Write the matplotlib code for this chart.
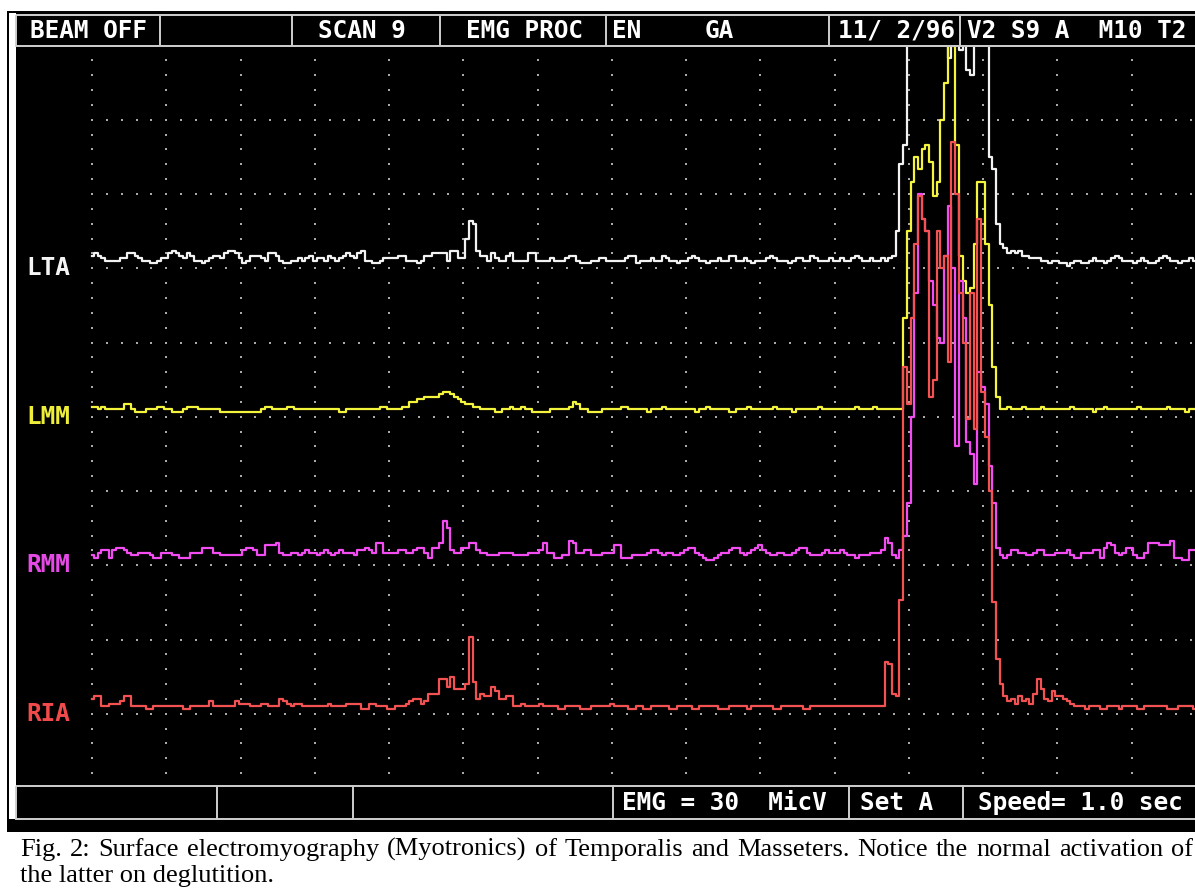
import numpy as np
import matplotlib.pyplot as plt
from matplotlib.patches import Rectangle

# EMG envelopes, one value every 0.05 s, in microvolts
lta_uv = [
    5, 6, 5, 4, 3, 3, 3, 3, 4, 4, 6, 6, 5, 4, 3, 3, 2, 2, 3, 4,
    4, 6, 7, 6, 5, 4, 6, 5, 3, 3, 2, 3, 4, 5, 5, 4, 6, 7, 7, 6,
    4, 2, 3, 5, 5, 5, 4, 3, 6, 6, 5, 3, 2, 2, 3, 3, 4, 3, 4, 5,
    3, 4, 4, 3, 5, 4, 3, 4, 5, 6, 5, 4, 6, 7, 3, 3, 2, 2, 3, 4,
    4, 4, 4, 5, 5, 3, 3, 3, 2, 3, 5, 5, 6, 6, 6, 6, 3, 7, 7, 4,
    4, 12, 19, 18, 7, 5, 5, 3, 6, 4, 3, 3, 5, 6, 3, 3, 3, 3, 6, 6,
    3, 3, 3, 3, 4, 3, 3, 3, 4, 5, 5, 3, 2, 2, 2, 3, 3, 4, 4, 3,
    3, 3, 3, 3, 4, 5, 5, 2, 3, 3, 3, 4, 3, 3, 5, 4, 3, 3, 2, 3,
    3, 4, 5, 4, 3, 3, 2, 3, 3, 4, 3, 3, 5, 5, 3, 3, 4, 3, 2, 3,
    3, 3, 4, 5, 4, 3, 3, 3, 2, 3, 4, 4, 3, 3, 5, 4, 3, 3, 3, 4,
    3, 3, 4, 3, 3, 4, 5, 4, 3, 3, 4, 3, 3, 4, 3, 4, 5, 15, 42, 50,
    120, 120, 120, 120, 120, 120, 120, 120, 120, 120, 120, 85, 120, 120, 88, 120, 80, 78, 120, 120,
    120, 120, 45, 40, 18, 10, 8, 6, 7, 6, 7, 5, 5, 4, 4, 4, 3, 3, 2, 3,
    3, 2, 2, 1, 2, 3, 3, 2, 2, 3, 4, 3, 3, 2, 3, 4, 5, 4, 3, 3,
    3, 2, 3, 4, 3, 2, 2, 3, 4, 5, 4, 3, 3, 2, 3, 3, 4, 3, 3, 3,
]
lmm_uv = [
    4, 4, 3, 4, 3, 3, 3, 3, 3, 5, 5, 3, 2, 2, 2, 3, 3, 3, 4, 4,
    3, 3, 2, 2, 2, 3, 4, 4, 4, 3, 3, 3, 3, 3, 3, 2, 2, 2, 2, 2,
    2, 2, 2, 2, 2, 2, 3, 4, 4, 3, 3, 3, 3, 4, 4, 3, 3, 3, 3, 3,
    3, 3, 3, 3, 3, 3, 3, 2, 2, 3, 3, 3, 3, 3, 3, 3, 3, 3, 4, 4,
    3, 3, 3, 3, 4, 4, 6, 6, 7, 7, 8, 8, 8, 8, 9, 10, 10, 9, 8, 7,
    6, 5, 5, 4, 4, 3, 3, 3, 3, 2, 2, 3, 3, 4, 3, 3, 4, 3, 3, 2,
    2, 2, 2, 2, 3, 3, 3, 3, 3, 4, 6, 5, 3, 3, 2, 2, 2, 2, 3, 3,
    3, 3, 3, 4, 4, 3, 3, 3, 3, 3, 2, 3, 3, 3, 4, 3, 3, 3, 3, 3,
    3, 3, 3, 2, 3, 3, 4, 3, 3, 3, 3, 3, 2, 2, 3, 3, 3, 4, 3, 3,
    3, 3, 3, 3, 4, 3, 3, 3, 3, 2, 3, 3, 3, 3, 3, 3, 4, 3, 3, 3,
    3, 3, 3, 3, 3, 3, 4, 3, 3, 3, 3, 4, 3, 3, 3, 3, 3, 3, 3, 40,
    75, 95, 105, 100, 108, 110, 103, 89, 95, 120, 135, 160, 150, 110, 65, 55, 50, 52, 70, 95,
    95, 70, 45, 20, 8, 3, 3, 4, 3, 3, 3, 4, 3, 3, 3, 3, 4, 3, 3, 3,
    3, 3, 3, 3, 4, 3, 3, 3, 3, 3, 2, 3, 3, 4, 3, 3, 3, 3, 3, 3,
    3, 3, 4, 3, 3, 3, 3, 3, 3, 3, 4, 3, 3, 3, 3, 2, 3, 3, 3, 3,
]
rmm_uv = [
    4, 3, 5, 6, 6, 3, 6, 7, 7, 6, 5, 4, 4, 5, 5, 5, 4, 3, 3, 5,
    5, 5, 4, 4, 3, 3, 3, 5, 5, 5, 7, 7, 7, 5, 5, 4, 4, 4, 4, 4,
    4, 6, 7, 7, 6, 4, 4, 8, 8, 8, 9, 5, 4, 4, 5, 5, 4, 5, 6, 5,
    5, 4, 5, 6, 5, 4, 5, 6, 5, 5, 5, 4, 6, 6, 7, 6, 5, 9, 9, 5,
    5, 5, 5, 6, 6, 5, 5, 6, 7, 7, 5, 3, 7, 7, 9, 18, 15, 6, 5, 5,
    7, 7, 9, 9, 6, 5, 5, 4, 4, 4, 5, 5, 5, 5, 4, 4, 4, 4, 5, 5,
    5, 6, 9, 5, 5, 3, 3, 4, 4, 10, 9, 5, 5, 6, 6, 4, 4, 4, 5, 5,
    5, 8, 8, 3, 3, 3, 4, 4, 4, 4, 5, 6, 6, 5, 4, 5, 5, 4, 4, 5,
    6, 7, 7, 5, 4, 3, 2, 2, 3, 4, 5, 5, 6, 7, 7, 5, 4, 5, 6, 7,
    8, 6, 5, 4, 4, 5, 5, 4, 4, 5, 6, 7, 7, 5, 4, 4, 4, 5, 6, 5,
    5, 5, 6, 5, 4, 4, 3, 4, 4, 4, 5, 5, 5, 6, 11, 9, 4, 3, 6, 12,
    25, 60, 110, 150, 140, 135, 115, 105, 92, 90, 125, 145, 120, 48, 115, 100, 50, 45, 33, 78,
    72, 65, 40, 25, 7, 4, 3, 4, 6, 6, 5, 5, 4, 4, 5, 6, 6, 4, 4, 4,
    5, 5, 5, 6, 4, 3, 3, 5, 5, 5, 6, 6, 3, 7, 9, 8, 5, 4, 5, 7,
    7, 4, 3, 3, 5, 9, 9, 9, 8, 8, 8, 10, 3, 3, 2, 2, 6, 6, 6, 5,
]
ria_uv = [
    6, 7, 7, 3, 3, 4, 4, 4, 5, 7, 7, 3, 3, 3, 3, 2, 2, 3, 3, 3,
    3, 3, 3, 3, 3, 2, 2, 3, 3, 3, 3, 3, 5, 3, 3, 3, 3, 3, 3, 5,
    4, 4, 4, 3, 3, 3, 4, 4, 3, 3, 3, 6, 5, 4, 3, 4, 4, 3, 3, 3,
    3, 3, 3, 3, 4, 3, 3, 3, 3, 4, 4, 4, 4, 2, 2, 4, 4, 3, 3, 3,
    2, 2, 3, 3, 3, 4, 5, 6, 6, 4, 5, 8, 8, 8, 14, 14, 11, 15, 10, 10,
    10, 12, 31, 13, 6, 8, 7, 7, 11, 9, 6, 6, 7, 7, 3, 3, 4, 3, 3, 3,
    3, 4, 3, 3, 3, 3, 2, 2, 3, 3, 3, 3, 2, 2, 2, 3, 3, 3, 3, 3,
    4, 3, 3, 3, 3, 2, 2, 3, 3, 2, 2, 3, 3, 3, 3, 3, 2, 2, 3, 3,
    3, 3, 2, 2, 3, 3, 3, 3, 3, 2, 2, 2, 3, 3, 3, 3, 3, 2, 3, 3,
    3, 3, 3, 3, 2, 2, 3, 3, 3, 3, 3, 3, 2, 2, 3, 3, 3, 3, 3, 3,
    3, 3, 3, 3, 3, 3, 3, 3, 3, 3, 3, 3, 3, 3, 21, 20, 8, 7, 46, 140,
    125, 160, 190, 209, 200, 195, 128, 135, 195, 180, 185, 142, 231, 210, 170, 150, 119, 170, 115, 200,
    130, 112, 90, 45, 22, 12, 7, 5, 6, 4, 7, 5, 6, 4, 8, 14, 10, 6, 5, 9,
    7, 7, 6, 5, 4, 3, 3, 3, 2, 3, 3, 3, 2, 2, 3, 3, 3, 2, 3, 3,
    3, 3, 2, 2, 3, 3, 3, 3, 3, 3, 2, 2, 2, 3, 3, 3, 3, 2, 3, 3,
]

channel_names = ["LTA", "LMM", "RMM", "RIA"]
channel_zero_div = [7, 5, 3, 1]
header_texts = ["BEAM OFF", "SCAN 9", "EMG PROC", "EN", "GA", "11/ 2/96", "V2 S9 A  M10 T2"]
footer_texts = ["EMG = 30  MicV", "Set A", "Speed= 1.0 sec"]
caption_lines = [
    "Fig. 2: Surface electromyography  (Myotronics) of Temporalis and Masseters. Notice the normal activation of",
    "the latter on deglutition.",
]

SAMPLE_SEC = 0.05
UV_PER_DIV = 30.0

# screen layout, in image pixels
W, H = 1195, 889
PX_DIV = 74.25
X0_PX, Y0_PX = 92, 788
TOP_PX, BOT_PX, LEFT_PX = 47, 786, 17
trace_colors = ["#f2f2f2", "#f4f43c", "#f24cf2", "#f45252"]
label_colors = ["#f4f4f4", "#eeee3a", "#e64ae6", "#f04a4a"]
header_x = [30, 318, 466, 612, 705, 838, 967]
header_div = [160, 292, 440, 606, 829, 960]
footer_x = [622, 860, 978]
footer_div = [217, 353, 613, 849, 963]
LINE = "#cfcfcf"
mono = dict(family="DejaVu Sans Mono", weight="bold", size=17.6)

fig = plt.figure(figsize=(W / 100, H / 100), dpi=100)
fig.patch.set_facecolor("white")

# frame, header and footer boxes drawn in pixel coordinates
bg = fig.add_axes([0, 0, 1, 1])
bg.set_xlim(0, W)
bg.set_ylim(H, 0)
bg.axis("off")
bg.add_patch(Rectangle((7, 11), W - 7, 832 - 11, fc="black", ec="none"))
bg.add_patch(Rectangle((9, 13), 7, 819 - 13, fc="white", ec="none"))
bg.add_patch(Rectangle((16.5, 14.5), W, 31.5, fill=False, ec=LINE, lw=1.4))
bg.add_patch(Rectangle((16.5, 786), W, 33, fill=False, ec=LINE, lw=1.4))
bg.vlines(header_div, 14.5, 46, color=LINE, lw=1.4)
bg.vlines(footer_div, 786, 819, color=LINE, lw=1.4)
for txt, x in zip(header_texts, header_x):
    bg.text(x, 31, txt, color="white", ha="left", va="center", **mono)
for txt, x in zip(footer_texts, footer_x):
    bg.text(x, 803, txt, color="white", ha="left", va="center", **mono)

# caption, first line justified across the page
serif = dict(family="Liberation Serif", size=19, color="black", va="baseline", ha="left")
renderer = fig.canvas.get_renderer()
words = caption_lines[0].split()
word_txt = [bg.text(0, 856, w, **serif) for w in words]
widths = [t.get_window_extent(renderer).width for t in word_txt]
gap = (1193 - 20 - sum(widths)) / (len(words) - 1)
x = 20
for t, w in zip(word_txt, widths):
    t.set_x(x)
    x += w + gap
bg.text(20, 882, caption_lines[1], **serif)

# scope screen: x in seconds (1 div = 1 s), y in divisions
ax = fig.add_axes([LEFT_PX / W, (H - BOT_PX) / H, (W - LEFT_PX) / W, (BOT_PX - TOP_PX) / H])
ax.set_facecolor("none")
ax.set_xlim((LEFT_PX - X0_PX) / PX_DIV, (W - X0_PX) / PX_DIV)
ax.set_ylim((Y0_PX - BOT_PX) / PX_DIV, (Y0_PX - TOP_PX) / PX_DIV)
ax.axis("off")

# dotted graticule along the major lines
col_t, col_y = np.meshgrid(np.arange(0, 15), np.arange(1, 50) * 0.2)
row_t, row_y = np.meshgrid(np.arange(0, 75) * 0.2, np.arange(1, 10))
dots_t = np.concatenate([col_t.ravel(), row_t.ravel()])
dots_y = np.concatenate([col_y.ravel(), row_y.ravel()])
ax.plot(dots_t, dots_y, ls="none", marker="s", ms=1.5, mew=0, color="#a9a9a9")

traces = [lta_uv, lmm_uv, rmm_uv, ria_uv]
for name, vals, zero, tc, lc in zip(channel_names, traces, channel_zero_div, trace_colors, label_colors):
    t = np.arange(len(vals)) * SAMPLE_SEC
    y = zero + np.array(vals) / UV_PER_DIV
    ax.step(t, y, where="mid", color=tc, lw=1.6)
    ax.text((26 - X0_PX) / PX_DIV, zero, name, color=lc, ha="left", va="center", **mono)

fig.savefig("out.png", dpi=100, facecolor="white")
